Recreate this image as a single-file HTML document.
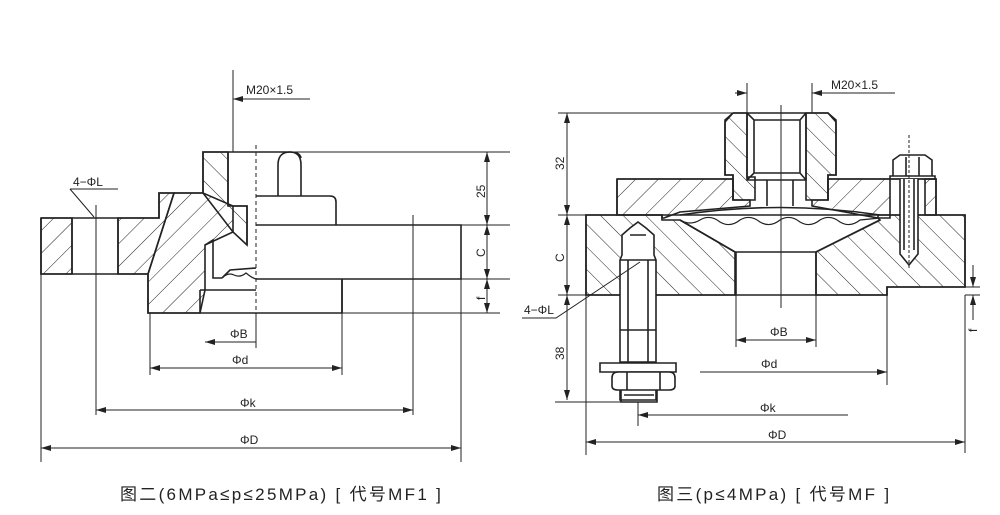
<!DOCTYPE html>
<html><head><meta charset="utf-8"><style>
html,body{margin:0;padding:0;background:#fff}
svg{display:block}
text{font-family:"Liberation Sans",sans-serif;fill:#222}
.c{font-family:"Liberation Sans","Noto Sans CJK SC",sans-serif;font-size:17px;letter-spacing:2.3px}
</style></head><body>
<svg width="1000" height="515" viewBox="0 0 1000 515" xmlns="http://www.w3.org/2000/svg">
<defs>
<pattern id="h" width="16" height="16" patternUnits="userSpaceOnUse" patternTransform="rotate(45)">
<line x1="0" y1="0" x2="0" y2="16" stroke="#222" stroke-width="1"/></pattern>
<pattern id="h2" width="16" height="16" patternUnits="userSpaceOnUse" patternTransform="rotate(-45)">
<line x1="0" y1="0" x2="0" y2="16" stroke="#222" stroke-width="1"/></pattern>
<marker id="a" viewBox="0 0 10 6" refX="10" refY="3" markerWidth="10" markerHeight="6" orient="auto-start-reverse" markerUnits="userSpaceOnUse"><path d="M0,0L10,3L0,6z" fill="#222"/></marker>
</defs>
<g fill="none" stroke="#222" stroke-width="1.6">
<path d="M41,218H72V274H41Z" fill="url(#h)"/>
<path d="M118,218H159V193H174L148,274V274H118Z" fill="url(#h)"/>
<path d="M174,193H203L233,206V232L220,238L205,245L205,290L200,313H148V274L174,193Z" fill="url(#h)"/>
<path d="M203,152H228V206H247V245L233,232L203,193Z" fill="url(#h2)"/>
<path d="M41,218H159V193H203V152H290Q300,152 301,158M41,218V274H148V313H342V279M72,218V274M118,218V274M41,274H118"/>
<path d="M233,206H247V245M228,152V206"/>
<path d="M256,225H461V279H256M342,279V313"/>
<path d="M256,196H330Q336,196 336,202V225"/>
<path d="M278,196V165Q278,152 290,152Q301,152 301,165V196"/>
<path d="M205,245L213,240V278H222M200,290H256M200,290V313M222,278L230,270L256,268"/>
<path d="M222,278Q228,272 234,275Q240,278 246,273Q252,278 256,279" stroke-width="1.2"/>
</g>
<g fill="none" stroke="#222" stroke-width="1">
<line x1="256" y1="145" x2="256" y2="313" stroke-dasharray="4,3"/>
<line x1="233" y1="70" x2="233" y2="152"/>
<line x1="233" y1="99" x2="310" y2="99" marker-start="url(#a)"/>
<line x1="96" y1="205" x2="96" y2="415"/>
<path d="M70,189H118M70,189L94,217"/>
<path d="M290,152H510M461,225H510M461,279H510M342,313H500"/>
<line x1="487" y1="152" x2="487" y2="225" marker-start="url(#a)" marker-end="url(#a)"/>
<line x1="487" y1="225" x2="487" y2="279" marker-start="url(#a)" marker-end="url(#a)"/>
<line x1="487" y1="279" x2="487" y2="313" marker-start="url(#a)" marker-end="url(#a)"/>
<line x1="41" y1="274" x2="41" y2="462"/>
<line x1="461" y1="279" x2="461" y2="462"/>
<line x1="150" y1="313" x2="150" y2="375"/>
<line x1="342" y1="313" x2="342" y2="375"/>
<line x1="413" y1="215" x2="413" y2="415"/>
<line x1="256" y1="313" x2="256" y2="348"/>
<line x1="205" y1="342" x2="256" y2="342" marker-start="url(#a)"/>
<line x1="150" y1="368" x2="342" y2="368" marker-start="url(#a)" marker-end="url(#a)"/>
<line x1="96" y1="410" x2="413" y2="410" marker-start="url(#a)" marker-end="url(#a)"/>
<line x1="41" y1="448" x2="461" y2="448" marker-start="url(#a)" marker-end="url(#a)"/>
</g>
<g font-size="12">
<text x="246" y="94">M20×1.5</text>
<text x="73" y="186">4−ΦL</text>
<text x="230" y="338">ΦB</text>
<text x="232" y="364">Φd</text>
<text x="240" y="407">Φk</text>
<text x="240" y="444">ΦD</text>
<text transform="translate(485,198) rotate(-90)">25</text>
<text transform="translate(485,257) rotate(-90)">C</text>
<text transform="translate(485,300) rotate(-90)">f</text>
</g>
<text class="c" x="120" y="500">图二(6MPa≤p≤25MPa) [ 代号MF1 ]</text>

<g fill="none" stroke="#222" stroke-width="1.6">
<path d="M617,179H733V200H750V206L680,212L664,218H662V215H617Z" fill="url(#h)"/>
<path d="M828,179H890V215H878V218L812,206V200H828Z" fill="url(#h)"/>
<path d="M925,179H936V215H925Z" fill="url(#h)"/>
<path d="M586,215H662V220L680,220L735,252V295H586Z" fill="url(#h2)"/>
<path d="M878,218H890V215H965V287H887V295H816V252L880,220Z" fill="url(#h2)"/>
<path d="M733,113H747V177H755V200H733V175H725V120Z" fill="url(#h2)"/>
<path d="M806,113H828L836,120V175H828V200H806V177Z" fill="url(#h2)"/>
<path d="M617,179V215M617,179H733M828,179H936V215M586,215H965V287H887V295H586Z"/>
<path d="M733,113H828L836,122V175H828V200M733,113L725,122V175H733V200"/>
<path d="M747,113V180H806V113M747,113L754,120H800L806,113M747,180L754,173H800L806,180M754,120V173M800,120V173"/>
<path d="M767,180V206M793,180V206"/>
<path d="M680,220L735,252H816L880,220M736,252V295M816,252V295"/>
<path d="M680,215Q780,200 880,215"/>
<path d="M680,220Q690,226 700,220Q710,214 720,222Q730,228 740,220Q750,214 760,222Q770,228 780,220Q790,214 800,222Q810,228 820,220Q830,214 840,222Q850,228 860,220L880,218" stroke-width="1.2"/>
<path d="M890,176H935V179H890ZM893,176V160L900,155H925L932,160V176M906,157V176M919,157V176"/>
<path d="M900,179V254L909,265L918,254V179M904,179V250M914,179V250" fill="#fff"/>
<path d="M622,235L630,228L638,222L646,228L654,235V255L656,260V400H620V260L622,255Z" fill="#fff"/>
<path d="M630,235H646M620,260H656M620,330H656M620,362H656M628,260V362M648,260V362"/>
<path d="M600,363H676V372H600Z" fill="#fff"/>
<path d="M612,378Q612,372 618,372H669Q675,372 675,378V386Q675,390 669,390H618Q612,390 612,386Z" fill="#fff"/>
<path d="M627,372V390M660,372V390"/>
<path d="M621,390V402H657V390M624,395H654"/>
</g>
<g fill="none" stroke="#222" stroke-width="1">
<line x1="781" y1="105" x2="781" y2="308"/>
<line x1="909" y1="135" x2="909" y2="270" stroke-dasharray="3,2"/>
<line x1="747" y1="83" x2="747" y2="113"/>
<line x1="812" y1="83" x2="812" y2="113"/>
<line x1="735" y1="93" x2="747" y2="93" marker-end="url(#a)"/>
<line x1="812" y1="93" x2="895" y2="93" marker-start="url(#a)"/>
<path d="M558,113H733M558,215H586M558,295H586M555,402H621"/>
<line x1="567" y1="113" x2="567" y2="215" marker-start="url(#a)" marker-end="url(#a)"/>
<line x1="567" y1="215" x2="567" y2="295" marker-start="url(#a)" marker-end="url(#a)"/>
<line x1="567" y1="295" x2="567" y2="400" marker-start="url(#a)" marker-end="url(#a)"/>
<path d="M965,287H980M965,295H980"/>
<line x1="973" y1="265" x2="973" y2="287" marker-end="url(#a)"/>
<line x1="973" y1="320" x2="973" y2="295" marker-end="url(#a)"/>
<path d="M522,318H556L640,262"/>
<line x1="586" y1="295" x2="586" y2="455"/>
<line x1="965" y1="295" x2="965" y2="453"/>
<line x1="638" y1="402" x2="638" y2="426"/>
<line x1="887" y1="295" x2="887" y2="385"/>
<line x1="736" y1="295" x2="736" y2="347"/>
<line x1="816" y1="295" x2="816" y2="347"/>
<line x1="736" y1="340" x2="816" y2="340" marker-start="url(#a)" marker-end="url(#a)"/>
<line x1="700" y1="372" x2="887" y2="372" marker-end="url(#a)"/>
<line x1="638" y1="415" x2="848" y2="415" marker-start="url(#a)"/>
<line x1="586" y1="442" x2="965" y2="442" marker-start="url(#a)" marker-end="url(#a)"/>
</g>
<g font-size="12">
<text x="831" y="89">M20×1.5</text>
<text x="524" y="314">4−ΦL</text>
<text x="770" y="336">ΦB</text>
<text x="761" y="368">Φd</text>
<text x="760" y="412">Φk</text>
<text x="768" y="439">ΦD</text>
<text transform="translate(564,170) rotate(-90)">32</text>
<text transform="translate(564,262) rotate(-90)">C</text>
<text transform="translate(564,360) rotate(-90)">38</text>
<text transform="translate(977,332) rotate(-90)">f</text>
</g>
<text class="c" x="657" y="500">图三(p≤4MPa) [ 代号MF ]</text>
</svg>
</body></html>
